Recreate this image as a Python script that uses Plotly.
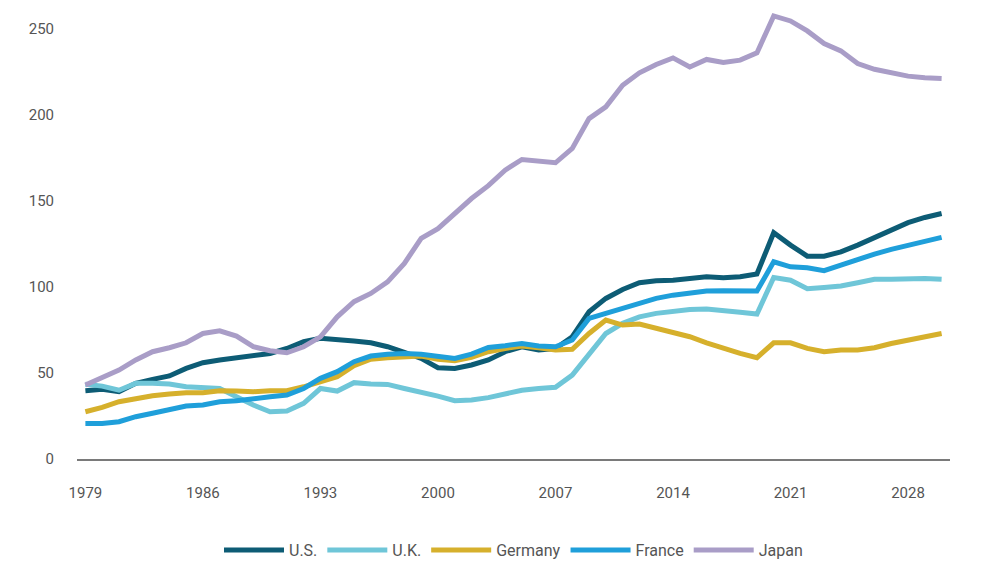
import plotly.graph_objects as go

years = list(range(1979, 2031))

us = [39.7, 40.5, 39.1, 44, 46.3, 48.3, 52.7, 56, 57.6, 58.9, 59.9, 61.4, 64.3, 68.2, 70.2, 69.6, 68.6, 67.6, 65.3, 62,
      58.5, 53.1, 52.7, 54.7, 57.6, 62.4, 65.3, 63.4, 64.3, 71.1, 85.6, 93.4, 98.6, 102.5, 103.7, 104, 104.7, 106, 105.4, 106,
      107.6, 131.6, 124.4, 118, 118, 120.5, 124.4, 128.9, 133.1, 137.5, 140.5, 142.8]
uk = [43.5, 42.4, 40, 44, 44, 43.6, 42, 41.7, 41, 36.2, 31.4, 27.5, 27.9, 32.4, 41, 39.5, 44.4, 43.6, 43.4, 41,
      39.1, 36.6, 33.9, 34.3, 35.7, 38.2, 40, 41, 41.7, 48.8, 61.4, 73, 78.9, 82.7, 84.7, 86.2, 87, 87.2, 86.6, 85.3,
      84.3, 105.6, 104, 99, 99.8, 100.6, 102.5, 104.5, 104.5, 105, 105, 104.5]
germany = [27.5, 30, 33.3, 35.3, 36.8, 37.8, 38.6, 38.5, 39.7, 39.5, 39.1, 39.7, 39.7, 42, 45, 47.9, 54.3, 58, 58.9, 59.5,
           59.9, 58, 57.2, 59.1, 62.4, 64.3, 65.7, 64.7, 63.4, 63.8, 73, 80.8, 77.9, 78.5, 76, 73.4, 71.1, 67.6, 64.2, 61.4,
           58.9, 67.6, 67.6, 64.3, 62.4, 63.4, 63.4, 64.7, 67.2, 69.2, 71.1, 73]
france = [20.7, 20.7, 21.7, 24.6, 26.6, 28.9, 30.8, 31.4, 33.3, 33.9, 34.7, 36.2, 37.2, 41, 46.9, 50.8, 56.6, 59.9, 60.9, 61.4,
          60.9, 59.5, 58.5, 61, 64.9, 65.9, 67.2, 65.7, 65.3, 69.2, 81.8, 84.7, 87.6, 90.9, 93.4, 95.3, 96.3, 97.7, 97.9, 97.7,
          97.7, 114.7, 111.8, 111.2, 109.5, 112.8, 116.1, 119.2, 121.9, 124.4, 126.7, 128.9]
japan = [43, 47, 51.7, 57.6, 62.4, 64.7, 67.6, 73, 74.6, 71.5, 65.3, 63, 61.8, 65.3, 71, 82.7, 91.5, 96.3, 103, 113.8,
         128.3, 134, 142.8, 151.5, 159, 168, 174.2, 173.3, 172.3, 180.6, 198, 204.8, 217.4, 224.6, 229.5, 233.3, 228, 232.4, 230.6, 232,
         236.2, 257.7, 254.8, 249, 241.7, 237.4, 230, 226.7, 224.6, 222.7, 221.7, 221.3]

series_names = ["U.S.", "U.K.", "Germany", "France", "Japan"]
series_values = [us, uk, germany, france, japan]
colors = ["#0d5c75", "#6fc6d8", "#d6b02c", "#1f9fda", "#a99dc7"]

x_ticks = [1979, 1986, 1993, 2000, 2007, 2014, 2021, 2028]
y_ticks = [0, 50, 100, 150, 200, 250]

fig = go.Figure()
for name, vals, col in zip(series_names, series_values, colors):
    fig.add_trace(go.Scatter(x=years, y=vals, mode="lines", name=name,
                             line=dict(color=col, width=5)))

font_col = "#555555"
fig.update_layout(
    width=982, height=569,
    margin=dict(l=77, r=32, t=12, b=110),
    plot_bgcolor="white", paper_bgcolor="white",
    font=dict(family="Roboto, sans-serif", size=15, color=font_col),
    showlegend=True,
    legend=dict(orientation="h", x=0.5, xanchor="center", xref="paper",
                y=1 - 550 / 569, yanchor="middle", yref="container",
                itemwidth=60, font=dict(size=16, color=font_col), traceorder="normal"),
    xaxis=dict(range=[1978.5, 2030.5], tickvals=x_ticks, ticktext=[str(t) for t in x_ticks],
               showgrid=False, zeroline=False, showline=True, linecolor="#7a7a7a", linewidth=2,
               ticks="", ticklabelstandoff=19),
    yaxis=dict(range=[0, 260], tickvals=y_ticks, showgrid=False, zeroline=False, showline=False,
               ticks="", ticklabelstandoff=22),
)

fig.write_html("out.html")
